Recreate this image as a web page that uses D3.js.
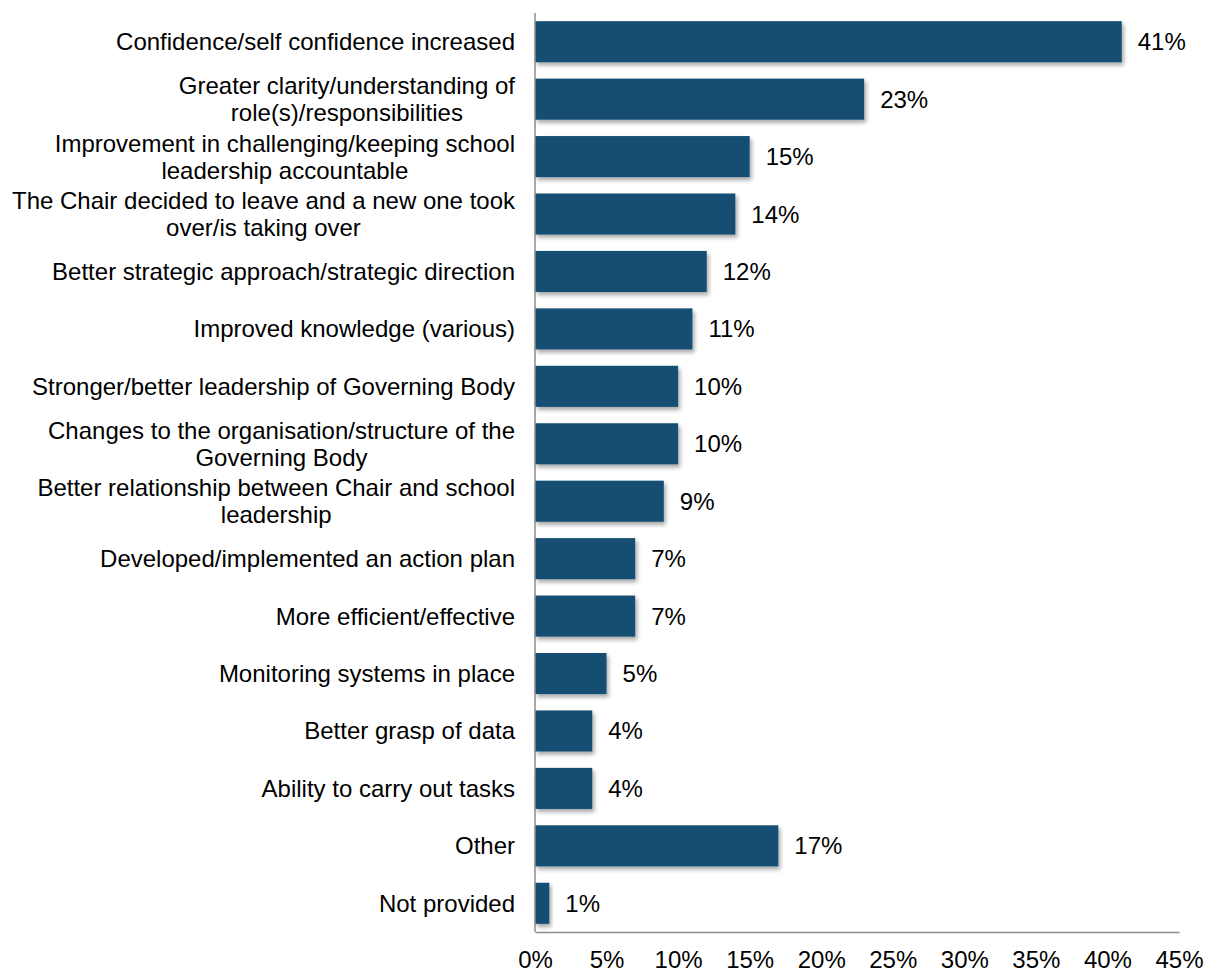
<!DOCTYPE html>
<html>
<head>
<meta charset="utf-8">
<script src="https://cdn.jsdelivr.net/npm/d3@7/dist/d3.min.js"></script>
<style>
  body { margin: 0; background: #fff; }
  text { font-family: "Liberation Sans", Arial, sans-serif; fill: #000; }
</style>
</head>
<body>
<svg id="chart" width="1211" height="972"></svg>
<script>
// Each category label is an array of display lines
const categories = [
  ["Confidence/self confidence increased"],
  ["Greater clarity/understanding of", "role(s)/responsibilities"],
  ["Improvement in challenging/keeping school", "leadership accountable"],
  ["The Chair decided to leave and a new one took", "over/is taking over"],
  ["Better strategic approach/strategic direction"],
  ["Improved knowledge (various)"],
  ["Stronger/better leadership of Governing Body"],
  ["Changes to the organisation/structure of the", "Governing Body"],
  ["Better relationship between Chair and school", "leadership"],
  ["Developed/implemented an action plan"],
  ["More efficient/effective"],
  ["Monitoring systems in place"],
  ["Better grasp of data"],
  ["Ability to carry out tasks"],
  ["Other"],
  ["Not provided"]
];
const values = [41, 23, 15, 14, 12, 11, 10, 10, 9, 7, 7, 5, 4, 4, 17, 1];
const tickValues = [0, 5, 10, 15, 20, 25, 30, 35, 40, 45];

const FONT = 24;
const svg = d3.select("#chart");
const plotLeft = 535, plotRight = 1179, plotTop = 13, plotBottom = 932;
const labelRight = 515;

const x = d3.scaleLinear().domain([0, 45]).range([plotLeft, plotRight]);
const y = d3.scaleBand()
  .domain(d3.range(categories.length))
  .range([plotTop, plotBottom])
  .paddingInner(0.285)
  .paddingOuter(0.1425);

// Soft drop shadow under the bars
const defs = svg.append("defs");
const f = defs.append("filter").attr("id", "shadow")
  .attr("x", "-10%").attr("y", "-20%").attr("width", "130%").attr("height", "160%");
f.append("feDropShadow").attr("dx", 2).attr("dy", 3).attr("stdDeviation", 2)
  .attr("flood-color", "#000").attr("flood-opacity", 0.35);

svg.append("g").selectAll("rect")
  .data(values)
  .join("rect")
  .attr("x", x(0))
  .attr("y", (d, i) => y(i))
  .attr("width", d => x(d) - x(0))
  .attr("height", y.bandwidth())
  .attr("fill", "#124E72")
  .attr("filter", "url(#shadow)");

// Axis lines
svg.append("line")
  .attr("x1", plotLeft).attr("x2", plotLeft).attr("y1", plotTop).attr("y2", plotBottom)
  .attr("stroke", "#8c8c8c").attr("stroke-width", 1.5);
const xAxis = d3.axisBottom(x)
  .tickValues(tickValues)
  .tickFormat(d => d + "%")
  .tickSize(0)
  .tickPadding(19);
const gx = svg.append("g").attr("transform", `translate(0,${plotBottom})`).call(xAxis);
gx.select(".domain").attr("stroke", "#8c8c8c").attr("stroke-width", 1.5);
gx.selectAll("text").style("font-size", FONT + "px").attr("fill", "#000")
  .style("font-family", "'Liberation Sans', Arial, sans-serif");

// Category labels: a right-aligned block whose lines are centred on each other
const lineH = 27;
const baseShift = 8.5;
const lab = svg.append("g").selectAll("text")
  .data(categories)
  .join("text")
  .attr("text-anchor", "middle")
  .attr("font-size", FONT)
  .attr("y", (d, i) => y(i) + y.bandwidth() / 2);
lab.each(function(lines) {
  const t = d3.select(this);
  const n = lines.length;
  const spans = lines.map((ln, k) =>
    t.append("tspan")
      .attr("dy", k === 0 ? ((-(n - 1) / 2) * lineH + baseShift) : lineH)
      .text(ln));
  const maxW = d3.max(spans, s => s.node().getComputedTextLength());
  const cx = labelRight - maxW / 2;
  spans.forEach(s => s.attr("x", cx));
});

// Value labels
svg.append("g").selectAll("text")
  .data(values)
  .join("text")
  .attr("x", d => x(d) + 16)
  .attr("y", (d, i) => y(i) + y.bandwidth() / 2 + baseShift)
  .attr("font-size", FONT)
  .text(d => d + "%");
</script>
</body>
</html>
